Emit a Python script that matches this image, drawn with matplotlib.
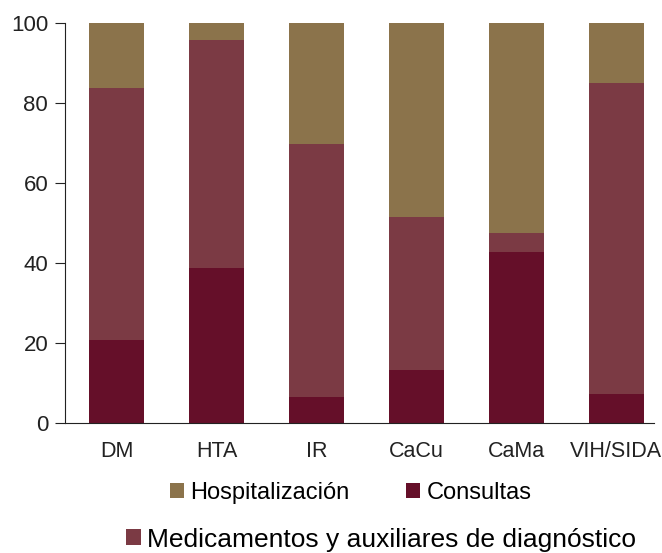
import matplotlib.pyplot as plt
import numpy as np

plt.rcParams['font.family'] = ['Liberation Sans', 'DejaVu Sans']

categorias = ['DM', 'HTA', 'IR', 'CaCu', 'CaMa', 'VIH/SIDA']
consultas = [20.8, 38.8, 6.5, 13.3, 42.8, 7.3]
medicamentos = [63.0, 57.0, 63.3, 38.2, 4.7, 77.7]
hospitalizacion = [16.2, 4.2, 30.2, 48.5, 52.5, 15.0]

c_cons = '#650F29'
c_med = '#7B3A44'
c_hosp = '#8B734B'

fig = plt.figure(figsize=(6.62, 5.53), dpi=100)
ax = fig.add_axes([0.098, 0.2345, 0.89, 0.7235])

x = np.arange(len(categorias))
w = 0.55
b1 = ax.bar(x, consultas, w, color=c_cons, label='Consultas')
b2 = ax.bar(x, medicamentos, w, bottom=consultas, color=c_med,
            label='Medicamentos y auxiliares de diagnóstico')
base = np.array(consultas) + np.array(medicamentos)
b3 = ax.bar(x, hospitalizacion, w, bottom=base, color=c_hosp, label='Hospitalización')

ax.set_ylim(0, 100)
ax.set_xlim(-0.52, 5.38)
ax.set_yticks([0, 20, 40, 60, 80, 100])
ax.set_xticks(x)
ax.set_xticklabels(categorias)
ax.spines['top'].set_visible(False)
ax.spines['right'].set_visible(False)
ax.spines['left'].set_color('#222222')
ax.spines['bottom'].set_color('#222222')
ax.tick_params(axis='y', labelsize=16, length=7, colors='#222222', pad=5)
ax.tick_params(axis='x', labelsize=15.5, length=0, pad=13, colors='#222222')

fig.legend(handles=[b3, b1], loc='center', bbox_to_anchor=(0.53, 0.108), ncol=2,
           frameon=False, fontsize=17, handlelength=0.6, handleheight=0.6,
           handletextpad=0.25, columnspacing=2.4)
fig.legend(handles=[b2], loc='center', bbox_to_anchor=(0.576, 0.024),
           frameon=False, fontsize=19, handlelength=0.55, handleheight=0.55,
           handletextpad=0.25)

fig.savefig('out.png', dpi=100)
